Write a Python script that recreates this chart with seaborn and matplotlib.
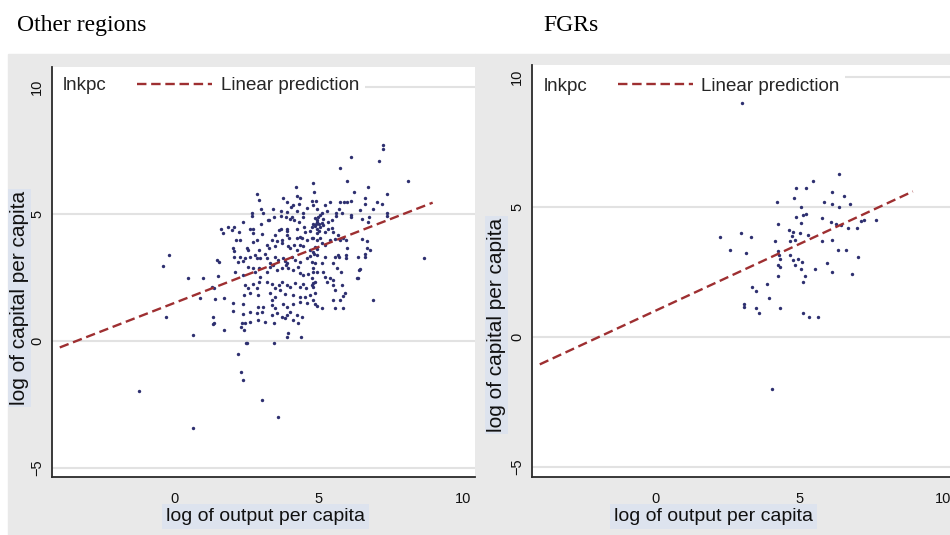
import numpy as np
import pandas as pd
import seaborn as sns
import matplotlib.pyplot as plt
from matplotlib.lines import Line2D
from matplotlib.patches import Rectangle

# Other regions: log of output per capita (x) vs log of capital per capita (y)
other_x = [
    4.19, 4.78, 2.86, 2.93, 4.83, 3.75, 4.24, 4.34, 4.75, 4.90,
    3.88, 4.02, 4.11, 4.30, 3.40, 2.98, 3.07, 3.69, 3.90, 4.25,
    4.43, 4.59, 4.80, 2.67, 2.67, 2.37, 3.27, 3.44, 3.70, 3.85,
    3.99, 4.05, 4.13, 4.32, 4.45, 4.86, 4.94, 1.59, 1.83, 2.06,
    2.60, 2.72, 3.67, 3.90, 4.25, 4.47, 4.80, 4.90, 4.94, 3.00,
    7.21, 7.21, 6.11, 7.08, 5.74, 5.98, 8.10, 6.23, 6.71, 7.37,
    6.60, 5.21, 5.38, 5.74, 5.88, 5.98, 6.12, 6.60, 7.02, 7.20,
    4.92, 5.09, 5.27, 5.70, 5.79, 6.10, 6.12, 6.42, 6.89, 7.35,
    7.35, 5.59, 5.59, 6.48, 6.71, 6.74, 4.95, 5.00, 5.05, 5.10,
    5.15, 5.30, 5.45, 5.00, 5.30, 4.85, 4.98, 5.02, 3.24,
    2.22, 1.97, 1.66, 2.72, 3.01, 3.47, 3.62, 3.88, 3.90, 3.97,
    4.25, 4.34, 4.52, 4.69, 4.94, 4.94, 4.75, 4.57, 4.34, 4.40,
    2.12, 2.26, 2.72, 2.84, 3.36, 3.53, 3.71, 2.03, 2.05, 2.49,
    2.55, 2.93, 3.18, 3.28, 3.47, 3.71, 3.94, 4.00, 4.13, 4.23,
    4.46, 4.69, 4.86, 4.92, 1.45, 1.54, 2.06, 2.26, 2.20, 2.43,
    2.37, 2.61, 2.78, 2.84, 2.95, 3.13, 3.18, 3.30, 3.47, 3.59,
    3.76, 3.82, 3.88, 4.05, 4.17, 4.34, 4.57, 4.69, 4.83, 0.96,
    1.51, 2.09, 2.37, 2.55, 2.70, 2.78, 2.93, 2.95, 3.18, 3.30,
    3.39, 3.53, 3.71, 3.86, 3.94, 4.11, 4.28, 4.34, 4.43, 4.63,
    4.81, 1.28, 1.36, 2.43, 2.55, 2.72, 2.84, 2.93, 3.18, 3.36,
    3.47, 3.62, 3.71, 3.88, 4.00, 4.17, 4.34, 4.46, 4.55, 4.75,
    4.86, 1.70, 2.40, 2.61, 2.90, 3.30, 3.36, 3.47, 3.65, 3.82,
    4.09, 4.34, 4.52, 4.69, 4.86, 2.03, 2.35, 2.90, 3.07, 3.36,
    3.47, 3.76, 3.90, 4.09, 4.34, 4.57, 2.03, 2.37, 2.61, 2.84,
    3.01, 3.36, 3.53, 3.71, 3.90, 4.00, 4.23, 1.36, 2.32, 2.43,
    2.61, 2.90, 3.13, 3.44, 3.82, 4.09,
    4.75, 5.15, 5.21, 5.44, 5.50, 5.67, 5.85, 4.81, 5.04, 5.10,
    5.21, 5.38, 5.56, 5.73, 5.94, 5.96, 4.81, 4.92, 5.21, 5.56,
    5.67, 5.71, 5.94, 5.94, 6.37, 6.60, 6.60, 6.77, 6.66, 6.48,
    6.66, 8.65, 4.75, 4.86, 5.10, 5.50, 5.62, 5.75, 6.43, 4.81,
    4.92, 5.15, 5.21, 4.75, 6.31, 6.37, 5.38, 5.50, 5.27, 4.78,
    4.81, 5.50, 5.56, 5.79, 5.91, 5.85, 4.78, 4.86, 4.92, 5.10,
    5.50, 5.73, 5.56, 5.85, 6.89,
    -0.30, 0.62, -1.25, 0.62, 3.03, 3.58, 2.19, 2.30, 2.36, 2.46,
    2.50, 3.45, 3.90, 3.93, 4.37, 2.29, 2.41, 4.28, 4.40, 6.40,
    -0.20, -0.40, 1.33, 1.33, 1.70, 0.45, 0.87, 1.39,
]
other_y = [
    6.05, 6.23, 5.81, 5.54, 5.88, 5.63, 5.71, 5.63, 5.52, 5.52,
    5.46, 5.29, 5.35, 5.39, 5.20, 5.21, 5.03, 5.12, 5.09, 5.12,
    5.05, 5.25, 5.35, 5.03, 4.93, 4.70, 4.76, 4.87, 4.92, 4.90,
    4.79, 4.87, 4.76, 4.70, 4.87, 4.83, 4.70, 4.43, 4.50, 4.50,
    4.43, 4.43, 4.43, 4.43, 4.43, 4.50, 4.60, 4.62, 4.43, 4.60,
    7.72, 7.55, 7.26, 7.09, 6.82, 6.31, 6.31, 5.88, 6.05, 5.81,
    5.62, 5.35, 5.46, 5.46, 5.46, 5.46, 5.52, 5.39, 5.48, 5.38,
    5.20, 5.03, 5.13, 5.20, 5.03, 4.95, 4.88, 5.16, 5.20, 5.03,
    4.93, 5.03, 4.92, 4.79, 4.70, 4.87, 4.75, 4.60, 4.50, 4.65,
    4.80, 4.70, 4.75, 4.35, 4.40, 4.55, 4.90, 4.95, 4.76,
    4.31, 4.37, 4.24, 4.24, 4.20, 4.18, 4.37, 4.33, 4.18, 4.05,
    4.05, 4.11, 4.31, 4.33, 4.24, 3.98, 4.05, 3.98, 3.78, 4.05,
    3.98, 3.98, 3.91, 3.98, 3.98, 3.94, 3.98, 3.65, 3.55, 3.68,
    3.59, 3.59, 3.78, 3.65, 3.76, 3.85, 3.76, 3.65, 3.78, 3.59,
    3.76, 3.59, 3.72, 3.63, 3.19, 3.13, 3.32, 3.32, 3.10, 3.26,
    3.15, 3.32, 3.39, 3.26, 3.26, 3.42, 3.26, 3.06, 3.32, 3.19,
    3.26, 3.15, 3.06, 3.32, 3.19, 3.13, 3.26, 3.36, 3.42, 2.50,
    2.58, 2.73, 2.60, 2.93, 2.86, 2.73, 2.86, 2.54, 2.73, 2.93,
    3.00, 2.80, 2.86, 3.00, 2.89, 2.80, 2.93, 2.67, 2.60, 2.63,
    2.73, 2.14, 2.08, 2.21, 2.08, 2.23, 2.08, 2.31, 2.34, 2.23,
    2.08, 2.21, 2.34, 2.21, 2.14, 2.27, 2.14, 2.23, 2.08, 2.21,
    2.34, 1.71, 1.81, 1.88, 1.81, 1.88, 1.62, 1.75, 2.01, 1.84,
    1.81, 1.75, 1.75, 1.81, 1.88, 1.49, 1.45, 1.35, 1.35, 1.42,
    1.29, 1.45, 1.35, 1.45, 1.55, 1.49, 1.18, 1.05, 1.13, 1.09,
    1.13, 1.03, 1.09, 0.96, 1.03, 1.13, 1.03, 0.70, 0.70, 0.70,
    0.76, 0.83, 0.76, 0.70, 0.90, 0.83,
    4.50, 4.57, 4.31, 4.44, 4.31, 4.18, 4.05, 4.05, 4.05, 3.85,
    3.78, 3.98, 4.02, 3.98, 3.98, 3.65, 3.52, 3.39, 3.32, 3.32,
    3.39, 3.32, 3.39, 3.26, 3.32, 3.42, 3.32, 3.59, 3.68, 4.02,
    3.94, 3.26, 3.13, 3.06, 3.06, 3.06, 2.89, 2.73, 2.82, 2.86,
    2.73, 2.73, 2.54, 2.50, 2.50, 2.50, 2.47, 2.40, 2.31, 2.27,
    2.14, 2.21, 2.01, 2.21, 1.88, 1.79, 1.62, 1.45, 1.38, 1.29,
    1.62, 1.62, 1.29, 1.29, 1.62,
    0.94, 0.24, -1.97, -3.43, -2.32, -2.99, -0.51, -1.22, -1.54, -0.08,
    -0.08, -0.08, 0.16, 0.31, 0.16, 0.55, 0.42, 0.70, 0.96, 2.80,
    3.40, 2.95, 0.94, 0.67, 0.43, 2.48, 1.70, 1.65,
]

# FGRs
fgr_x = [
    3.01, 6.40, 4.90, 5.24, 5.50, 6.16, 6.56, 4.22, 4.84, 5.86,
    6.16, 6.40, 6.77, 5.07, 5.23, 5.15, 4.90, 5.07, 4.28, 5.79,
    6.10, 6.28, 6.46, 7.14, 7.26, 7.67, 6.71, 7.00, 4.65, 4.78,
    4.86, 4.69, 4.77, 5.03, 5.32, 5.79, 6.16, 6.34, 6.63, 7.06,
    4.17, 2.26, 2.97, 3.32, 2.60, 3.15, 4.28, 4.31, 4.34, 4.69,
    4.98, 4.80, 5.09, 4.86, 4.28, 5.96, 4.33, 5.07, 5.56, 6.16,
    6.83, 4.28, 5.19, 5.15, 3.38, 3.51, 3.88, 3.94, 3.08, 3.08,
    3.51, 3.62, 4.34, 5.13, 5.36, 5.67, 4.05,
]
fgr_y = [
    9.01, 6.27, 5.75, 5.75, 6.01, 5.59, 5.42, 5.18, 5.33, 5.18,
    5.11, 5.01, 5.10, 4.99, 4.75, 4.69, 4.60, 4.37, 4.34, 4.56,
    4.43, 4.34, 4.31, 4.46, 4.50, 4.52, 4.18, 4.18, 4.11, 4.05,
    3.73, 3.70, 3.88, 3.99, 3.92, 3.70, 3.75, 3.35, 3.35, 3.09,
    3.70, 3.83, 4.01, 3.83, 3.35, 3.25, 3.32, 3.15, 3.02, 3.15,
    3.02, 2.96, 2.90, 2.77, 2.77, 2.83, 2.70, 2.60, 2.60, 2.51,
    2.42, 2.35, 2.35, 2.10, 1.94, 1.77, 2.03, 1.51, 1.26, 1.17,
    1.10, 0.94, 1.10, 0.94, 0.76, 0.76, -2.00,
]

# linear prediction (end points)
other_fit_x = [-4.0, 8.95]
other_fit_y = [-0.25, 5.45]
fgr_fit_x = [-4.0, 8.95]
fgr_fit_y = [-1.05, 5.60]

titles = ["Other regions", "FGRs"]
legend_labels = ["lnkpc", "Linear prediction"]
x_label = "log of output per capita"
y_label = "log of capital per capita"
x_ticks = [0, 5, 10]
y_ticks = [-5, 0, 5, 10]

sns.set_theme(style="white")
plt.rcParams["font.family"] = ["Liberation Sans", "DejaVu Sans"]

W, H = 950, 535
fig = plt.figure(figsize=(9.5, 5.35), dpi=100)

pt_color = "#2e3070"
fit_color = "#9e2f31"
dash = (0, (4, 2))
panel_gray = "#e9e9e9"
label_box = "#dde3ee"

# gray graph regions behind each panel
fig.patches.append(Rectangle((8 / W, 0), (475 - 8) / W, (535 - 54) / H,
                             transform=fig.transFigure, color=panel_gray, zorder=-5))
fig.patches.append(Rectangle((475 / W, 0), (950 - 475) / W, (535 - 54) / H,
                             transform=fig.transFigure, color=panel_gray, zorder=-5))

panels = [
    dict(rect=[52 / W, 58 / H, 423 / W, 410 / H], xlim=(-4.27, 10.42), ylim=(-5.35, 10.79),
         x=other_x, y=other_y, fx=other_fit_x, fy=other_fit_y,
         title_x=17 / W, xl=(0.504, -0.076), yl=(-0.055, 0.437), leg=(-0.186, 0.954)),
    dict(rect=[532 / W, 58 / H, 418 / W, 412 / H], xlim=(-4.27, 10.24), ylim=(-5.38, 10.46),
         x=fgr_x, y=fgr_y, fx=fgr_fit_x, fy=fgr_fit_y,
         title_x=543 / W, xl=(0.434, -0.076), yl=(-0.062, 0.369), leg=(-0.186, 0.949)),
]

for p, title in zip(panels, titles):
    ax = fig.add_axes(p["rect"])
    ax.set_facecolor("white")
    sns.scatterplot(x=p["x"], y=p["y"], ax=ax, s=6, color=pt_color,
                    linewidth=0, legend=False, zorder=2)
    sns.lineplot(x=p["fx"], y=p["fy"], ax=ax, color=fit_color, linewidth=1.7,
                 linestyle=dash, legend=False, errorbar=None, zorder=2.1)

    ax.set_xlim(*p["xlim"])
    ax.set_ylim(*p["ylim"])
    ax.set_xticks(x_ticks)
    ax.set_yticks(y_ticks)
    ax.grid(axis="y", color="#e2e2e2", linewidth=1.5)
    ax.grid(axis="x", visible=False)
    ax.set_axisbelow(True)

    for side in ["top", "right"]:
        ax.spines[side].set_visible(False)
    for side in ["left", "bottom"]:
        ax.spines[side].set_color("#2a2a2a")
        ax.spines[side].set_linewidth(1.3)

    ax.tick_params(axis="both", which="major", length=3, width=1, color="#2a2a2a",
                   labelsize=10.5, labelcolor="#111111")
    ax.tick_params(axis="x", pad=8)
    ax.tick_params(axis="y", pad=2.5, labelrotation=90)
    for lbl in ax.get_yticklabels():
        lbl.set_va("center")

    ax.set_xlabel(x_label, fontsize=14, color="#111111",
                  bbox=dict(facecolor=label_box, edgecolor="none", pad=3))
    ax.xaxis.set_label_coords(*p["xl"])
    ax.set_ylabel(y_label, fontsize=15, color="#111111",
                  bbox=dict(facecolor=label_box, edgecolor="none", pad=1.5))
    ax.yaxis.set_label_coords(*p["yl"])

    handles = [Line2D([], [], linestyle="none"),
               Line2D([], [], color=fit_color, linewidth=1.7, linestyle=dash)]
    leg = ax.legend(handles, legend_labels, ncol=2, loc="center left",
                    bbox_to_anchor=p["leg"], frameon=True, fancybox=False,
                    framealpha=1, facecolor="white", edgecolor="none",
                    handlelength=4.0, handletextpad=0.45, columnspacing=1.65,
                    borderpad=0.3, borderaxespad=0, fontsize=13.5)
    leg.set_zorder(2.2)
    leg.legendPatch.set_clip_box(ax.bbox)
    leg.legendPatch.set_clip_on(True)

    fig.text(p["title_x"], 1 - 31 / H, title, family="Liberation Serif",
             fontsize=17, va="baseline", ha="left", color="black")

fig.savefig("out.png", dpi=100)
